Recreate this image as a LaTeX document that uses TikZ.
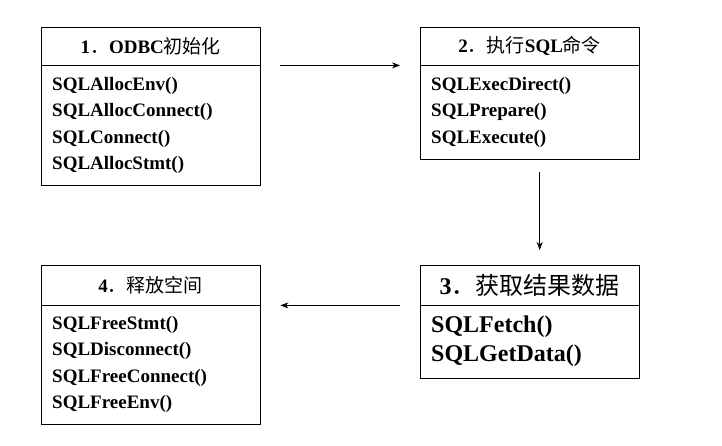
\documentclass[tikz,border=0pt]{standalone}
\usepackage{fontspec}
\setmainfont{Liberation Serif}
\newfontfamily\cjk{Noto Sans CJK SC}
\usetikzlibrary{arrows.meta}
\tikzset{
  head/.style={draw, anchor=north west, minimum width=219pt, minimum height=38pt,
    inner sep=0pt, font=\fontsize{19}{22}\selectfont},
  body/.style={draw, anchor=north west, minimum width=219pt, text width=197pt,
    inner sep=11pt, align=left, font=\fontsize{19}{26.5}\selectfont\bfseries},
  flow/.style={-{Stealth[length=8pt,width=6pt]}, line width=0.6pt}
}
\begin{document}
\begin{tikzpicture}[x=1pt,y=-1pt]
\useasboundingbox (0,0) rectangle (722,445);
%boxes
\node[head] (h1) at (41,27) {\textbf{1}{\cjk ．}\textbf{ODBC}{\cjk 初始化}};
\node[body, minimum height=120pt] (b1) at (41,65) {SQLAllocEnv()\\SQLAllocConnect()\\SQLConnect()\\SQLAllocStmt()};
\node[head] (h2) at (420,27) {\textbf{2}{\cjk ．执行}\textbf{SQL}{\cjk 命令}};
\node[body, minimum height=94pt] (b2) at (420,65) {SQLExecDirect()\\SQLPrepare()\\SQLExecute()};
\node[head, minimum height=40pt, font=\fontsize{24}{28}\selectfont] (h3) at (420,265) {\textbf{3}{\cjk ．获取结果数据}};
\node[body, minimum height=72pt, font=\fontsize{24}{29}\selectfont\bfseries] (b3) at (420,305) {SQLFetch()\\SQLGetData()};
\node[head, minimum height=40pt] (h4) at (41,265) {\textbf{4}{\cjk ．释放空间}};
\node[body, minimum height=118pt] (b4) at (41,305) {SQLFreeStmt()\\SQLDisconnect()\\SQLFreeConnect()\\SQLFreeEnv()};
%arrows
\draw[flow, shorten <=20pt, shorten >=20pt] (h1.south east) -- (h2.south west);
\draw[flow, shorten <=13pt, shorten >=15pt] ([xshift=10pt]b2.south) -- ([xshift=10pt]h3.north);
\draw[flow, shorten <=20pt, shorten >=20pt] (h3.south west) -- (h4.south east);
\end{tikzpicture}
\end{document}
